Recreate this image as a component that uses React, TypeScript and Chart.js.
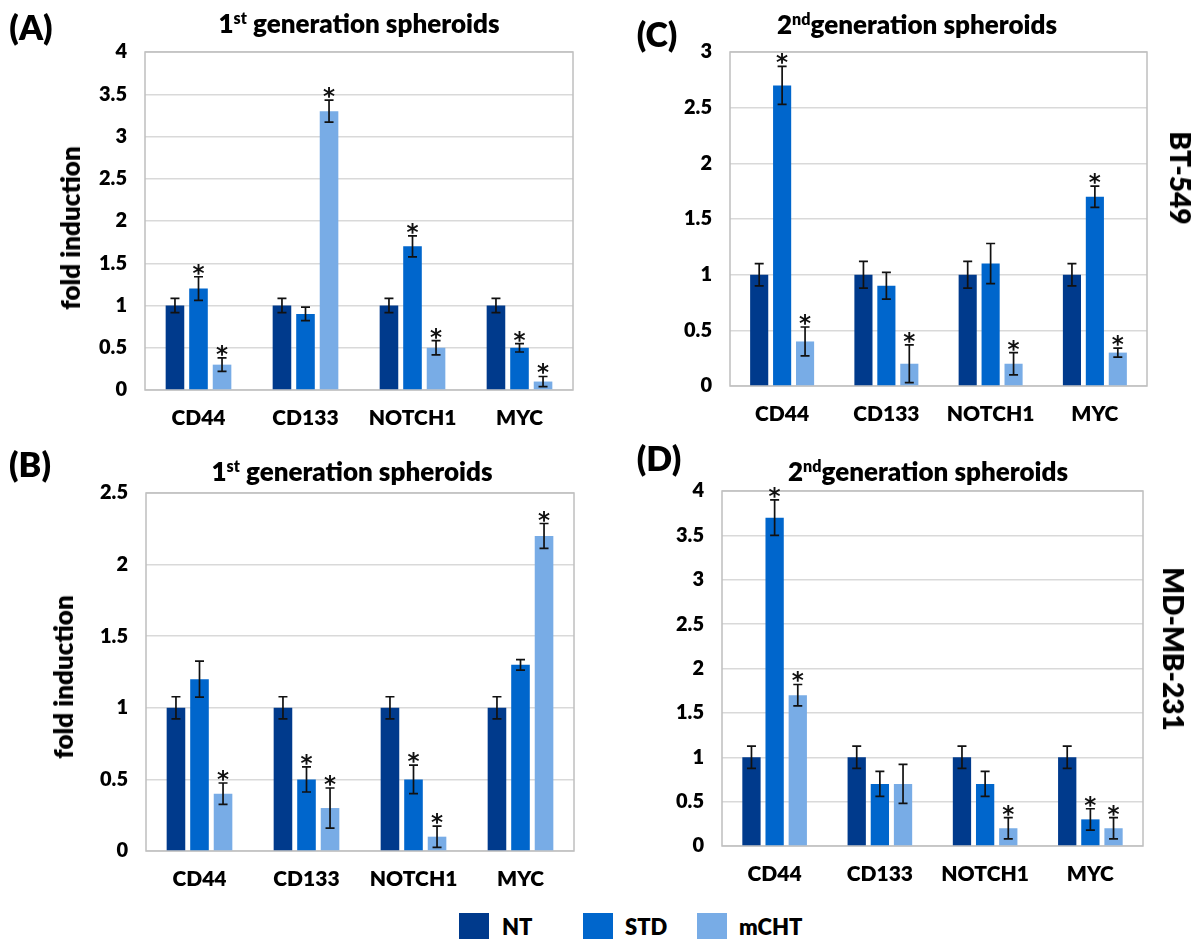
import React, { useEffect, useRef } from 'react';
import { Chart, registerables } from 'chart.js';

Chart.register(...registerables);

const FONT = 'Lato, "Open Sans", "DejaVu Sans", sans-serif';
const STAR_FONT = '"DejaVu Sans", Lato, sans-serif';
const WEIGHT = 800;

// ---------- data ----------
const categories = ['CD44', 'CD133', 'NOTCH1', 'MYC'];
const seriesNames = ['NT', 'STD', 'mCHT'];
const seriesColors = ['#003A8C', '#0066CC', '#78ACE6'];

// Panel A – BT-549, 1st generation
const aNT = [1, 1, 1, 1];
const aNTErr = [0.085, 0.085, 0.085, 0.085];
const aSTD = [1.2, 0.9, 1.7, 0.5];
const aSTDErr = [0.14, 0.08, 0.125, 0.05];
const aMCHT = [0.3, 3.3, 0.5, 0.1];
const aMCHTErr = [0.08, 0.13, 0.085, 0.06];
const aStarsSTD = [1, 0, 1, 1];
const aStarsMCHT = [1, 1, 1, 1];
const aTicks = [0, 0.5, 1, 1.5, 2, 2.5, 3, 3.5, 4];

// Panel C – BT-549, 2nd generation
const cNT = [1, 1, 1, 1];
const cNTErr = [0.1, 0.12, 0.12, 0.1];
const cSTD = [2.7, 0.9, 1.1, 1.7];
const cSTDErr = [0.17, 0.12, 0.18, 0.095];
const cMCHT = [0.4, 0.2, 0.2, 0.3];
const cMCHTErr = [0.13, 0.17, 0.1, 0.04];
const cStarsSTD = [1, 0, 0, 1];
const cStarsMCHT = [1, 1, 1, 1];
const cTicks = [0, 0.5, 1, 1.5, 2, 2.5, 3];

// Panel B – MD-MB-231, 1st generation
const bNT = [1, 1, 1, 1];
const bNTErr = [0.077, 0.077, 0.077, 0.077];
const bSTD = [1.2, 0.5, 0.5, 1.3];
const bSTDErr = [0.126, 0.088, 0.1, 0.037];
const bMCHT = [0.4, 0.3, 0.1, 2.2];
const bMCHTErr = [0.075, 0.14, 0.074, 0.087];
const bStarsSTD = [0, 1, 1, 0];
const bStarsMCHT = [1, 1, 1, 1];
const bTicks = [0, 0.5, 1, 1.5, 2, 2.5];

// Panel D – MD-MB-231, 2nd generation
const dNT = [1, 1, 1, 1];
const dNTErr = [0.125, 0.125, 0.125, 0.125];
const dSTD = [3.7, 0.7, 0.7, 0.3];
const dSTDErr = [0.2, 0.14, 0.14, 0.12];
const dMCHT = [1.7, 0.7, 0.2, 0.2];
const dMCHTErr = [0.12, 0.22, 0.12, 0.12];
const dStarsSTD = [1, 0, 0, 1];
const dStarsMCHT = [1, 0, 1, 1];
const dTicks = [0, 0.5, 1, 1.5, 2, 2.5, 3, 3.5, 4];

const noStars = [0, 0, 0, 0];

type PanelCfg = {
  L: number; T: number; R: number; B: number;
  ticks: number[];
  values: number[][];
  errors: number[][];
  stars: number[][];
};

const panels: PanelCfg[] = [
  { L: 145, T: 52, R: 573, B: 390, ticks: aTicks, values: [aNT, aSTD, aMCHT], errors: [aNTErr, aSTDErr, aMCHTErr], stars: [noStars, aStarsSTD, aStarsMCHT] },
  { L: 730, T: 52, R: 1147, B: 386, ticks: cTicks, values: [cNT, cSTD, cMCHT], errors: [cNTErr, cSTDErr, cMCHTErr], stars: [noStars, cStarsSTD, cStarsMCHT] },
  { L: 146, T: 493, R: 574, B: 851, ticks: bTicks, values: [bNT, bSTD, bMCHT], errors: [bNTErr, bSTDErr, bMCHTErr], stars: [noStars, bStarsSTD, bStarsMCHT] },
  { L: 722, T: 491, R: 1143, B: 846, ticks: dTicks, values: [dNT, dSTD, dMCHT], errors: [dNTErr, dSTDErr, dMCHTErr], stars: [noStars, dStarsSTD, dStarsMCHT] },
];

const PAD_L = 110, PAD_T = 30, PAD_R = 30, PAD_B = 60;

const framePlugin = {
  id: 'frame',
  beforeDatasetsDraw(chart: any) {
    const { ctx, chartArea: a } = chart;
    ctx.save();
    ctx.strokeStyle = '#BFBFBF';
    ctx.lineWidth = 1.5;
    ctx.strokeRect(a.left, a.top, a.right - a.left, a.bottom - a.top);
    ctx.restore();
  },
};

// y tick labels, drawn from the y scale's own ticks and pixel mapping
const yLabelPlugin = {
  id: 'ylabels',
  afterDraw(chart: any) {
    const { ctx, chartArea: a } = chart;
    const y = chart.scales.y;
    ctx.save();
    ctx.font = `${WEIGHT} 20px ${FONT}`;
    ctx.fillStyle = '#000';
    ctx.textAlign = 'right';
    ctx.textBaseline = 'middle';
    y.ticks.forEach((t: any) => {
      ctx.fillText(String(Number(t.value)), a.left - 18, y.getPixelForValue(t.value));
    });
    ctx.restore();
  },
};

const errorBarPlugin = {
  id: 'errbars',
  afterDatasetsDraw(chart: any) {
    const { ctx } = chart;
    const y = chart.scales.y;
    chart.data.datasets.forEach((ds: any, i: number) => {
      const meta = chart.getDatasetMeta(i);
      meta.data.forEach((el: any, j: number) => {
        const v = ds.data[j];
        const e = ds.errors[j];
        const yt = y.getPixelForValue(v + e);
        const yb = y.getPixelForValue(v - e);
        const x = el.x;
        ctx.save();
        ctx.strokeStyle = '#111';
        ctx.lineWidth = 1.7;
        ctx.beginPath();
        ctx.moveTo(x, yt); ctx.lineTo(x, yb);
        ctx.moveTo(x - 4.5, yt); ctx.lineTo(x + 4.5, yt);
        ctx.moveTo(x - 4.5, yb); ctx.lineTo(x + 4.5, yb);
        ctx.stroke();
        if (ds.stars[j]) {
          ctx.font = `bold 23px ${STAR_FONT}`;
          ctx.fillStyle = '#111';
          ctx.textAlign = 'center';
          ctx.textBaseline = 'alphabetic';
          const m = ctx.measureText('*');
          const d = m.actualBoundingBoxDescent || 0;
          ctx.fillText('*', x, yt - 2 - d);
        }
        ctx.restore();
      });
    });
  },
};

function Panel({ cfg }: { cfg: PanelCfg }) {
  const ref = useRef<HTMLCanvasElement>(null);
  const W = cfg.R - cfg.L + PAD_L + PAD_R;
  const H = cfg.B - cfg.T + PAD_T + PAD_B;
  useEffect(() => {
    if (!ref.current) return;
    let chart: Chart | null = null;
    let alive = true;
    const maxV = cfg.ticks[cfg.ticks.length - 1];
    const build = () => {
      if (!alive || !ref.current) return;
      chart = new Chart(ref.current, {
        type: 'bar',
        data: {
          labels: categories,
          datasets: seriesNames.map((name, i) => ({
            label: name,
            data: cfg.values[i],
            errors: cfg.errors[i],
            stars: cfg.stars[i],
            backgroundColor: seriesColors[i],
            borderWidth: 0,
            categoryPercentage: 0.66,
            barPercentage: 0.79,
          })) as any,
        },
        options: {
          animation: false,
          responsive: false,
          maintainAspectRatio: false,
          layout: { padding: { left: 0, top: PAD_T, right: PAD_R, bottom: 0 } },
          plugins: { legend: { display: false }, tooltip: { enabled: false }, title: { display: false } },
          scales: {
            x: {
              grid: { display: false, drawTicks: false },
              border: { display: false },
              ticks: { color: '#000', font: { family: FONT, size: 21, weight: WEIGHT }, padding: 16 },
              afterFit: (s: any) => { s.height = PAD_B; },
            },
            y: {
              type: 'linear',
              min: 0,
              max: maxV,
              afterBuildTicks: (s: any) => { s.ticks = cfg.ticks.map((v) => ({ value: v })); },
              grid: { color: '#D9D9D9', lineWidth: 1.5, drawTicks: false },
              border: { display: false },
              ticks: { display: false },
              afterFit: (s: any) => { s.width = PAD_L; },
            },
          },
        },
        plugins: [framePlugin, errorBarPlugin, yLabelPlugin],
      } as any);
    };
    const fonts: any = (document as any).fonts;
    if (fonts && fonts.load) {
      Promise.all([
        fonts.load(`${WEIGHT} 20px Lato`),
        fonts.load('bold 20px "DejaVu Sans"'),
      ]).then(build, build);
    } else {
      build();
    }
    return () => { alive = false; if (chart) chart.destroy(); };
  }, []);
  return (
    <canvas
      ref={ref}
      width={W}
      height={H}
      style={{ position: 'absolute', left: cfg.L - PAD_L, top: cfg.T - PAD_T, width: W, height: H }}
    />
  );
}

const textBase: React.CSSProperties = {
  position: 'absolute',
  fontFamily: FONT,
  fontWeight: WEIGHT,
  color: '#000',
  whiteSpace: 'nowrap',
  lineHeight: 1,
  transform: 'translate(-50%, -50%)',
};

function Txt({ x, y, size, rot, children }: { x: number; y: number; size: number; rot?: number; children: React.ReactNode }) {
  return (
    <div style={{ ...textBase, left: x, top: y, fontSize: size, transform: `translate(-50%, -50%)${rot ? ` rotate(${rot}deg)` : ''}` }}>
      {children}
    </div>
  );
}

const sup: React.CSSProperties = { fontSize: '0.62em', verticalAlign: '0.55em' };

export default function App() {
  return (
    <div style={{ position: 'absolute', left: 0, top: 0, width: 1199, height: 939, overflow: 'hidden', background: '#fff' }}>
      {panels.map((p, i) => <Panel key={i} cfg={p} />)}

      <Txt x={31} y={27} size={34}>(A)</Txt>
      <Txt x={657} y={34} size={34}>(C)</Txt>
      <Txt x={30} y={464} size={34}>(B)</Txt>
      <Txt x={659} y={458} size={34}>(D)</Txt>

      <Txt x={359} y={23} size={26}>1<span style={sup}>st</span> generation spheroids</Txt>
      <Txt x={917} y={24} size={26}>2<span style={sup}>nd</span>generation spheroids</Txt>
      <Txt x={352} y={471} size={26}>1<span style={sup}>st</span> generation spheroids</Txt>
      <Txt x={928} y={471} size={26}>2<span style={sup}>nd</span>generation spheroids</Txt>

      <Txt x={70} y={228} size={26} rot={-90}>fold induction</Txt>
      <Txt x={63} y={677} size={26} rot={-90}>fold induction</Txt>

      <Txt x={1181} y={178} size={28} rot={90}>BT-549</Txt>
      <Txt x={1174} y={649} size={28} rot={90}>MD-MB-231</Txt>

      {seriesNames.map((name, i) => {
        const sx = [459, 583, 697][i];
        const tx = [502, 625, 739][i];
        return (
          <React.Fragment key={name}>
            <div style={{ position: 'absolute', left: sx, top: 913, width: 30, height: 26, background: seriesColors[i] }} />
            <div style={{ ...textBase, transform: 'translate(0, -50%)', left: tx, top: 927, fontSize: 22 }}>{name}</div>
          </React.Fragment>
        );
      })}
    </div>
  );
}
